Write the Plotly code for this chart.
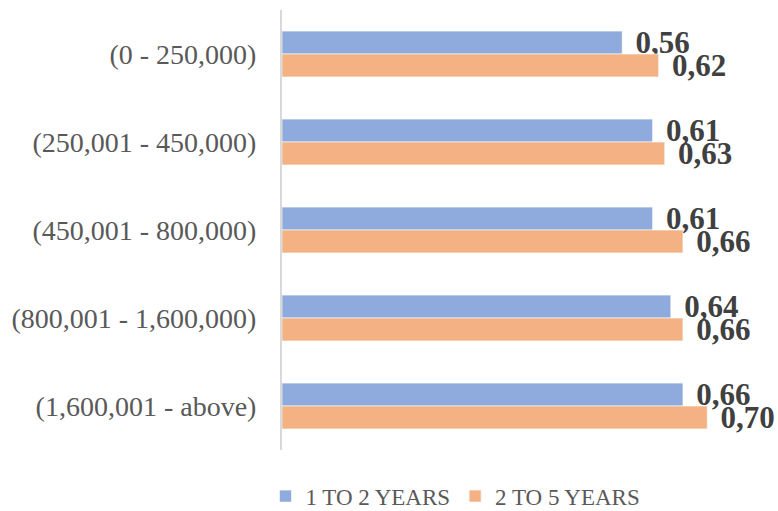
import plotly.graph_objects as go

categories = ["(0 - 250,000)", "(250,001 - 450,000)", "(450,001 - 800,000)",
              "(800,001 - 1,600,000)", "(1,600,001 - above)"]
series_names = ["1 TO 2 YEARS", "2 TO 5 YEARS"]
values_1to2 = [0.56, 0.61, 0.61, 0.64, 0.66]
values_2to5 = [0.62, 0.63, 0.66, 0.66, 0.70]
colors = ["#8FAADC", "#F4B183"]

def fmt(v):
    return "\u00a0\u200a" + f"{v:.2f}".replace(".", ",")

fig = go.Figure()
for name, vals, col in zip(series_names, [values_1to2, values_2to5], colors):
    fig.add_trace(go.Bar(
        y=categories, x=vals, name=name, orientation="h",
        marker=dict(color=col, line=dict(color="rgba(255,255,255,0.8)", width=0.75)),
        text=[fmt(v) for v in vals], textposition="outside",
        textfont=dict(family="Liberation Serif", size=31, color="#404040", weight="bold"),
        constraintext="none", cliponaxis=False,
    ))

fig.update_layout(
    width=778, height=511,
    margin=dict(l=282, r=10, t=10, b=61, autoexpand=False),
    paper_bgcolor="white", plot_bgcolor="white",
    barmode="group", bargap=0.48, bargroupgap=0,
    font=dict(family="Liberation Serif", color="#595959"),
    showlegend=True,
    legend=dict(orientation="h", x=-0.034, xanchor="left", y=-0.056, yanchor="top",
                font=dict(size=23, color="#595959"), traceorder="normal"),
)
fig.update_xaxes(range=[0, 0.8], showgrid=False, zeroline=False, showline=False,
                 showticklabels=False, ticks="", automargin=False)
fig.update_yaxes(autorange="reversed", showgrid=False, zeroline=False, showline=True,
                 linecolor="#D9D9D9", linewidth=2, ticks="", ticklabelstandoff=18,
                 automargin=False,
                 tickfont=dict(size=28, color="#595959", family="Liberation Serif"))

fig.write_html("out.html", config={"displayModeBar": False},
               post_script="document.body.style.margin='0';document.body.style.overflow='hidden';")
